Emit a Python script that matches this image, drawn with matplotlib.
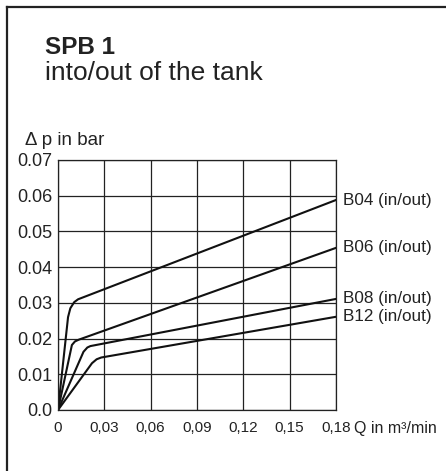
import matplotlib
matplotlib.use("Agg")
import matplotlib.pyplot as plt
from matplotlib.lines import Line2D

plt.rcParams['font.family'] = ['Liberation Sans', 'DejaVu Sans']

# --- data ---
x_ticks = [0, 0.03, 0.06, 0.09, 0.12, 0.15, 0.18]
x_tick_labels = ["0", "0,03", "0,06", "0,09", "0,12", "0,15", "0,18"]
y_ticks = [0.0, 0.01, 0.02, 0.03, 0.04, 0.05, 0.06, 0.07]
y_tick_labels = ["0.0", "0.01", "0.02", "0.03", "0.04", "0.05", "0.06", "0.07"]

b04_q = [0, 0.0065, 0.008, 0.0105, 0.013, 0.18]
b04_dp = [0, 0.026, 0.0285, 0.0302, 0.031, 0.0588]
b06_q = [0, 0.009, 0.011, 0.0135, 0.18]
b06_dp = [0, 0.0182, 0.0192, 0.0197, 0.0454]
b08_q = [0, 0.0165, 0.019, 0.021, 0.18]
b08_dp = [0, 0.0163, 0.0175, 0.0179, 0.0311]
b12_q = [0, 0.022, 0.025, 0.028, 0.18]
b12_dp = [0, 0.0131, 0.0142, 0.0147, 0.0261]

series = [
    ("B04 (in/out)", b04_q, b04_dp),
    ("B06 (in/out)", b06_q, b06_dp),
    ("B08 (in/out)", b08_q, b08_dp),
    ("B12 (in/out)", b12_q, b12_dp),
]

fig = plt.figure(figsize=(4.46, 4.71), dpi=100)
fig.patch.set_facecolor("white")

# frame around the panel (open to the right and bottom)
fig.add_artist(Line2D([7 / 446, 7 / 446], [0, 1 - 7 / 471], color="#222222", lw=1.6,
                      transform=fig.transFigure))
fig.add_artist(Line2D([7 / 446, 1], [1 - 7 / 471, 1 - 7 / 471], color="#222222", lw=1.6,
                      transform=fig.transFigure))

fig.text(45 / 446, 1 - 54 / 471, "SPB 1", fontsize=17.5, fontweight="bold",
         color="#222222", va="baseline")
fig.text(45 / 446, 1 - 80 / 471, "into/out of the tank", fontsize=19,
         color="#222222", va="baseline")

ax = fig.add_axes([58 / 446, 61 / 471, 278 / 446, 250 / 471])
for label, q, dp in series:
    ax.plot(q, dp, color="#111111", lw=1.5, solid_joinstyle="round")
    ax.annotate(label, (q[-1], dp[-1]), xytext=(5, 0), textcoords="offset points",
                fontsize=12.3, va="center", ha="left", color="#222222",
                annotation_clip=False)

ax.set_xlim(0, 0.18)
ax.set_ylim(0, 0.07)
ax.set_xticks(x_ticks)
ax.set_xticklabels(x_tick_labels)
ax.set_yticks(y_ticks)
ax.set_yticklabels(y_tick_labels)
ax.tick_params(length=0, colors="#222222")
ax.tick_params(axis="x", labelsize=11, pad=8)
ax.tick_params(axis="y", labelsize=13, pad=4)
ax.grid(True, color="#222222", lw=0.9)
for s in ax.spines.values():
    s.set_color("#222222")
    s.set_linewidth(0.9)

ax.annotate("Q in m³/min", (1, 0), xycoords="axes fraction", xytext=(13, -8),
            textcoords="offset points", fontsize=11.5, va="top", ha="left",
            color="#222222", annotation_clip=False)
fig.text(25 / 446, 1 - 145 / 471, "Δ p in bar", fontsize=13.5, va="baseline",
         color="#222222")

fig.savefig("out.png", dpi=100)
